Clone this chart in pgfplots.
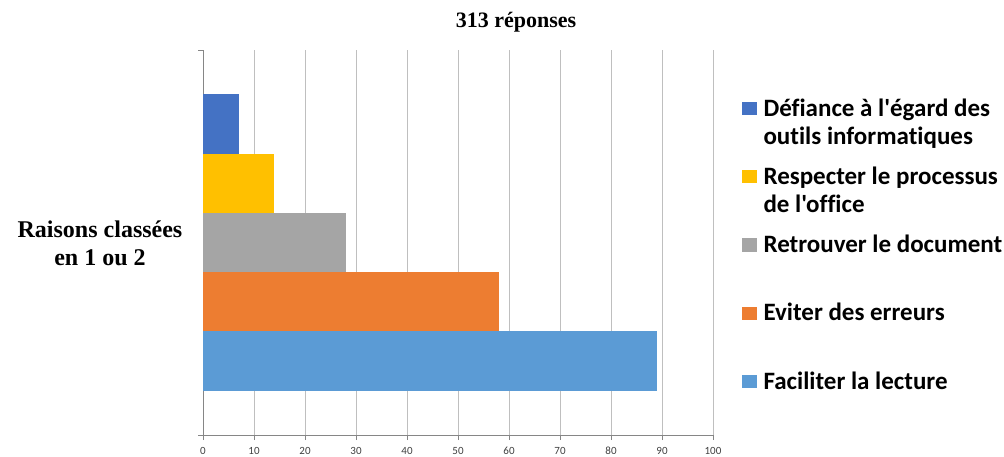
\documentclass[border=0pt]{standalone}
\usepackage{fontspec}
\setmainfont{Liberation Serif}
\newfontfamily\calibri{Carlito}[Ligatures={TeXOff,CommonOff}]
\usepackage{pgfplots}
\pgfplotsset{compat=1.18}
\definecolor{cA}{HTML}{4472C4}
\definecolor{cB}{HTML}{FFC000}
\definecolor{cC}{HTML}{A5A5A5}
\definecolor{cD}{HTML}{ED7D31}
\definecolor{cE}{HTML}{5B9BD5}
\definecolor{gridgray}{HTML}{BFBFBF}
\definecolor{axisgray}{HTML}{868686}
\definecolor{ticktext}{HTML}{404040}
\newcommand\lent[1]{\rule[-50.75pt]{0pt}{20pt}\parbox[t]{250pt}{#1}}
\pgfplotsset{
  mybar/.style={xbar, bar width=1, bar shift=0pt, draw=none, fill=#1,
    legend image code/.code={\fill[fill=#1] (0pt,1pt) rectangle (14.5pt,14.3pt);}},
}
\begin{document}
\begin{tikzpicture}[x=1pt,y=1pt]
\path[use as bounding box] (0,0) rectangle (1004,456);
\begin{axis}[
  at={(203pt,21pt)}, anchor=south west,
  width=510pt, height=385pt, scale only axis,
  xmin=0, xmax=100, ymin=-3.25, ymax=3.25,
  xtick={0,10,...,100},
  ytick={-3.25,3.25}, yticklabels={},
  axis x line*=bottom, axis y line*=left,
  axis line style={draw=axisgray, line width=1pt, -},
  xmajorgrids, grid style={draw=gridgray, line width=1pt},
  tick align=outside, major tick length=5pt,
  tick style={draw=axisgray, line width=1pt},
  /pgf/number format/assume math mode=true,
  xticklabel style={font=\calibri\fontsize{11}{13}\selectfont, text=ticktext,
    anchor=base, inner sep=0pt, yshift=-14pt},
  legend style={at={(1.0569,0.87403)}, anchor=north west, draw=none, fill=none,
    inner sep=0pt, outer sep=0pt, row sep=0pt, column sep=7pt,
    font=\calibri\bfseries\fontsize{25}{28}\selectfont,
    nodes={inner sep=0pt, text depth=, text height=}, cells={anchor=base west}},
]
\addplot[mybar=cA] coordinates {(7,2)};
\addlegendentry{\lent{Défiance à l'égard des\\outils informatiques}}
\addplot[mybar=cB] coordinates {(14,1)};
\addlegendentry{\lent{Respecter le processus\\de l'office}}
\addplot[mybar=cC] coordinates {(28,0)};
\addlegendentry{\lent{Retrouver le document}}
\addplot[mybar=cD] coordinates {(58,-1)};
\addlegendentry{\lent{Eviter des erreurs}}
\addplot[mybar=cE] coordinates {(89,-2)};
\addlegendentry{\lent{Faciliter la lecture}}
\end{axis}
\node[font=\bfseries\fontsize{22}{26}\selectfont, anchor=base] at (516,428) {313 réponses};
\node[font=\bfseries\fontsize{24}{28}\selectfont, anchor=base] at (100,219) {Raisons classées};
\node[font=\bfseries\fontsize{24}{28}\selectfont, anchor=base] at (100,191) {en 1 ou 2};
\end{tikzpicture}
\end{document}
